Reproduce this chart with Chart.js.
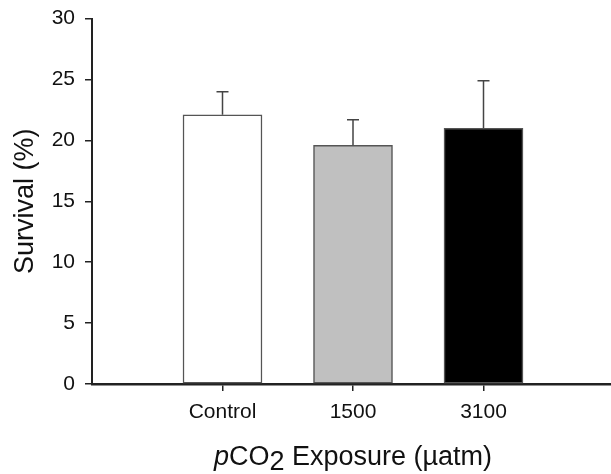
<!DOCTYPE html>
<html>
<head>
<meta charset="utf-8">
<script src="https://cdn.jsdelivr.net/npm/chart.js@4"></script>
<style>
  html, body { margin: 0; padding: 0; background: #fff; overflow: hidden; }
  #wrap { width: 611px; height: 474px; position: relative; overflow: hidden; }
  #survivalChart { position: absolute; left: 0; top: -4px; }
</style>
</head>
<body>
<div id="wrap"><canvas id="survivalChart" width="623" height="478"></canvas></div>
<script>
// survival by pCO2 exposure
const categories = ['Control', '1500', '3100'];
const survival = [22.1, 19.6, 21.0];
const survivalErr = [1.9, 2.1, 3.9];
const barColors = ['#ffffff', '#c0c0c0', '#000000'];
const yTicks = [0, 5, 10, 15, 20, 25, 30];

const FONT = '"Liberation Sans", Arial, Helvetica, sans-serif';

// blank slots at both ends so the bars sit where the original put them
const labels = [''].concat(categories, ['']);
const padded = [null].concat(survival, [null]);
const paddedColors = ['#fff'].concat(barColors, ['#fff']);

// error bars on top of each bar (upper whisker only)
const errorBars = {
    id: 'errorBars',
    afterDatasetsDraw(chart) {
        const ctx = chart.ctx;
        const yScale = chart.scales.y;
        const meta = chart.getDatasetMeta(0);
        ctx.save();
        ctx.strokeStyle = '#444';
        ctx.lineWidth = 1.5;
        survival.forEach(function(v, i) {
            const bar = meta.data[i + 1];
            const yTop = yScale.getPixelForValue(v + survivalErr[i]);
            ctx.beginPath();
            ctx.moveTo(bar.x, bar.y);
            ctx.lineTo(bar.x, yTop);
            ctx.moveTo(bar.x - 6, yTop);
            ctx.lineTo(bar.x + 6, yTop);
            ctx.stroke();
        });
        ctx.restore();
    }
};

// x title with italic p and subscript 2
const xTitle = {
    id: 'xTitle',
    afterDraw(chart) {
        const ctx = chart.ctx;
        const size = 27;
        const parts = [
            { t: 'p', f: 'italic ' + size + 'px ' + FONT, dy: 0 },
            { t: 'CO', f: size + 'px ' + FONT, dy: 0 },
            { t: '2', f: size + 'px ' + FONT, dy: 5 },
            { t: ' Exposure (\u00b5atm)', f: size + 'px ' + FONT, dy: 0 }
        ];
        ctx.save();
        ctx.fillStyle = '#111';
        ctx.textBaseline = 'alphabetic';
        let total = 0;
        parts.forEach(function(p) { ctx.font = p.f; total += ctx.measureText(p.t).width; });
        let x = 353 - total / 2;
        const y = chart.chartArea.bottom + 81;
        parts.forEach(function(p) {
            ctx.font = p.f;
            ctx.fillText(p.t, x, y + p.dy);
            x += ctx.measureText(p.t).width;
        });
        ctx.restore();
    }
};

const ctx = document.getElementById('survivalChart').getContext('2d');
const chart = new Chart(ctx, {
    type: 'bar',
    data: {
        labels: labels,
        datasets: [{
            data: padded,
            backgroundColor: paddedColors,
            borderColor: '#555',
            borderWidth: 1.5,
            borderSkipped: false,
            barThickness: 79
        }]
    },
    options: {
        responsive: false,
        animation: false,
        layout: { padding: { top: 13, right: 0, left: 0, bottom: 0 } },
        plugins: {
            legend: { display: false },
            tooltip: { enabled: false }
        },
        scales: {
            x: {
                offset: false,
                afterFit: function(scale) { scale.height = 90; },
                ticks: {
                    color: '#111',
                    font: { family: FONT, size: 21 },
                    padding: 9,
                    maxRotation: 0,
                    autoSkip: false
                },
                grid: {
                    offset: false,
                    drawOnChartArea: false,
                    tickLength: 7,
                    color: function(c) {
                        return (c.index === 0 || c.index === labels.length - 1) ? 'rgba(0,0,0,0)' : '#222';
                    },
                    lineWidth: 1.5
                },
                border: { color: '#222', width: 2.5 }
            },
            y: {
                min: 0,
                max: 30,
                afterBuildTicks: function(scale) {
                    scale.ticks = yTicks.map(function(v) { return { value: v }; });
                },
                afterFit: function(scale) { scale.width = 92; },
                ticks: {
                    color: '#111',
                    font: { family: FONT, size: 21 },
                    padding: 10
                },
                grid: {
                    drawOnChartArea: false,
                    tickLength: 7,
                    color: '#222',
                    lineWidth: 1.5
                },
                border: { color: '#222', width: 2 },
                title: {
                    display: true,
                    text: 'Survival (%)',
                    color: '#111',
                    font: { family: FONT, size: 27 },
                    padding: { top: 9, bottom: 0 }
                }
            }
        }
    },
    plugins: [errorBars, xTitle]
});
</script>
</body>
</html>
